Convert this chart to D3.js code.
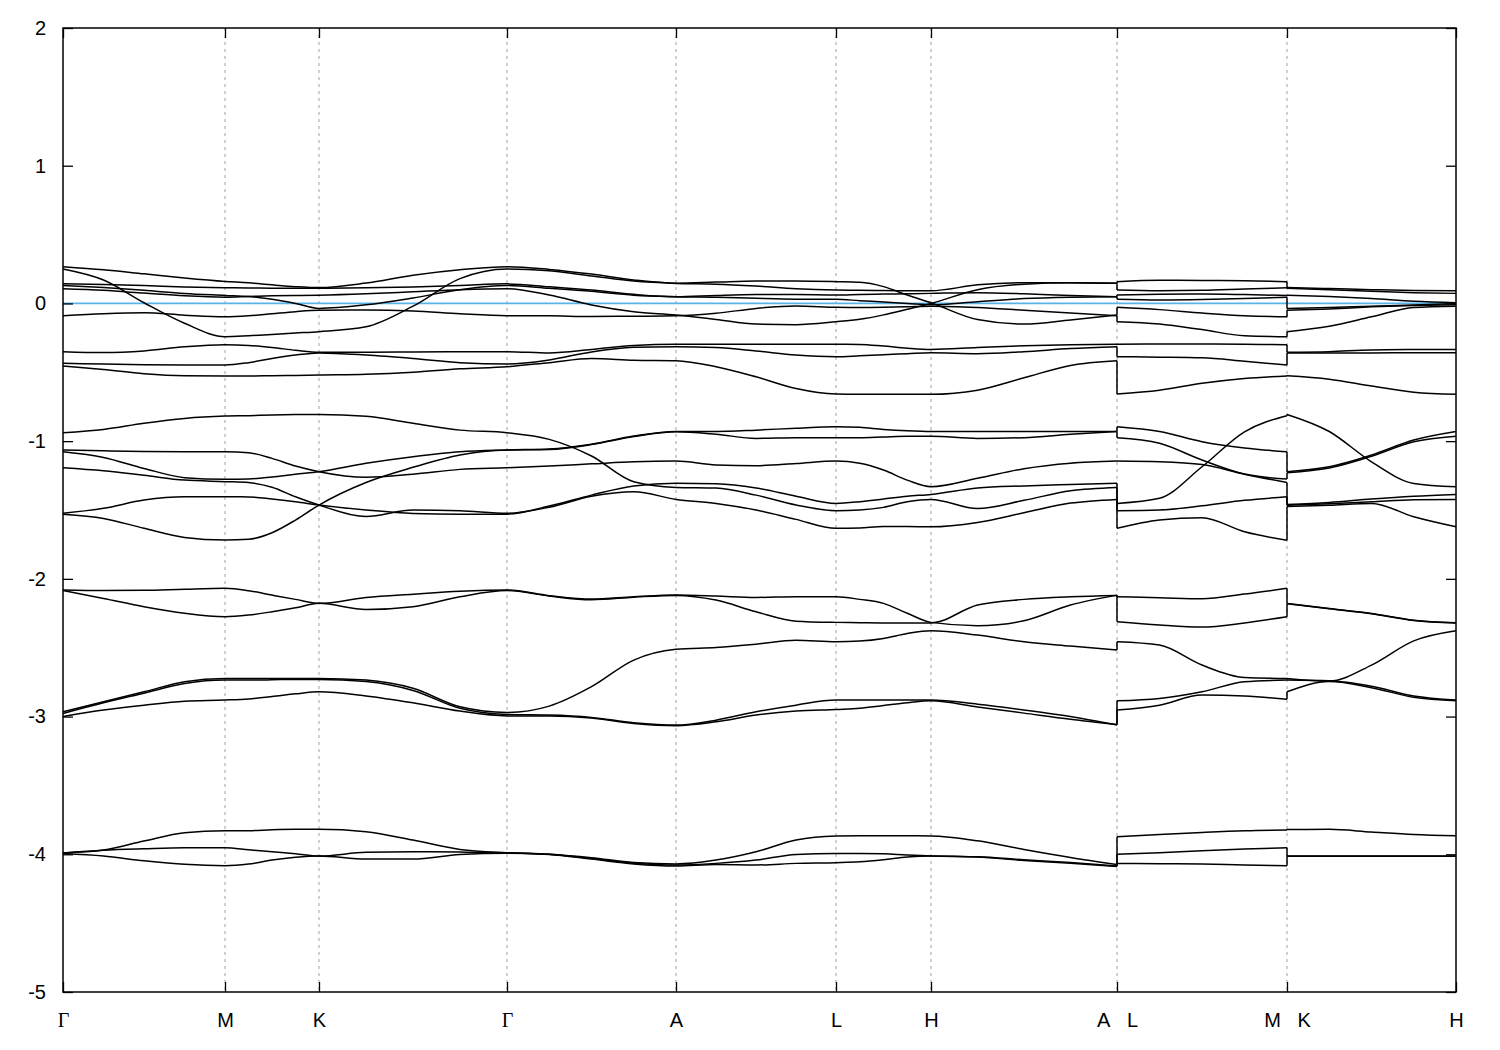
<!DOCTYPE html>
<html><head><meta charset="utf-8">
<script src="https://cdn.jsdelivr.net/npm/d3@7"></script>
<style>body{margin:0;background:#fff;} svg{display:block;}</style>
</head><body>
<svg id="chart" width="1500" height="1050"></svg>
<script>
// ---- k-path ticks ----
const kLabels = ["Γ", "M", "K", "Γ", "A", "L", "H", "A\u00a0\u00a0\u00a0L", "M\u00a0\u00a0\u00a0K", "H"];
const kTickPos = [0, 0.162, 0.256, 0.444, 0.613, 0.773, 0.868, 1.054, 1.224, 1.393];
const yTicks = [2, 1, 0, -1, -2, -3, -4, -5];
const fermiLevel = 0;
const samplesPerSegment = 4;

// ---- bands along Γ-M-K-Γ-A-L-H-A (29 samples: 4 per segment) ----
const bandsPath1 = [
  [0.267,0.245,0.215,0.185,0.16, 0.15,0.135,0.122,0.115, 0.148,0.205,0.245,0.267, 0.247,0.213,0.17,0.147, 0.155,0.163,0.163,0.158, 0.153,0.122,0.061,0.005, -0.117,-0.15,-0.12,-0.084],
  [0.25,0.17,0.005,-0.144,-0.242, -0.235,-0.225,-0.215,-0.205, -0.17,-0.02,0.18,0.25, 0.237,0.2,0.162,0.145, 0.14,0.126,0.107,0.097, 0.095,0.093,0.092,0.092, 0.135,0.15,0.15,0.147],
  [0.142,0.138,0.13,0.12,0.114, 0.112,0.111,0.11,0.11, 0.113,0.12,0.13,0.142, 0.121,0.097,0.066,0.049, 0.058,0.064,0.064,0.061, 0.065,0.068,0.07,0.073, 0.078,0.07,0.058,0.049],
  [0.13,0.115,0.095,0.072,0.058, 0.05,0.03,0.0,-0.036, -0.01,0.04,0.1,0.13, 0.11,0.088,0.06,0.049, 0.045,0.037,0.031,0.03, 0.02,0.01,0.0,-0.01, 0.013,0.035,0.045,0.049],
  [0.107,0.095,0.075,0.055,0.045, 0.05,0.055,0.058,0.06, 0.07,0.085,0.1,0.107, 0.061,-0.011,-0.06,-0.084, -0.116,-0.15,-0.154,-0.133, -0.115,-0.083,-0.042,0.0, 0.1,0.14,0.15,0.146],
  [-0.089,-0.075,-0.068,-0.085,-0.097, -0.09,-0.075,-0.06,-0.05, -0.048,-0.055,-0.075,-0.089, -0.09,-0.095,-0.093,-0.09, -0.072,-0.036,-0.019,-0.028, -0.03,-0.028,-0.024,-0.02, -0.03,-0.05,-0.07,-0.09],
  [-0.35,-0.357,-0.345,-0.315,-0.3, -0.305,-0.32,-0.34,-0.355, -0.355,-0.352,-0.35,-0.35, -0.36,-0.335,-0.305,-0.297, -0.297,-0.297,-0.297,-0.297, -0.298,-0.31,-0.325,-0.334, -0.32,-0.307,-0.3,-0.297],
  [-0.435,-0.44,-0.445,-0.447,-0.447, -0.43,-0.4,-0.375,-0.36, -0.375,-0.4,-0.43,-0.44, -0.41,-0.352,-0.319,-0.314, -0.32,-0.345,-0.375,-0.387, -0.38,-0.372,-0.365,-0.358, -0.365,-0.35,-0.328,-0.314],
  [-0.455,-0.48,-0.51,-0.525,-0.527, -0.527,-0.525,-0.523,-0.52, -0.515,-0.5,-0.475,-0.46, -0.43,-0.4,-0.412,-0.416, -0.46,-0.533,-0.618,-0.658, -0.66,-0.66,-0.66,-0.66, -0.63,-0.54,-0.45,-0.416],
  [-0.939,-0.915,-0.87,-0.835,-0.818, -0.815,-0.81,-0.807,-0.806, -0.82,-0.87,-0.92,-0.939, -0.987,-1.108,-1.295,-1.336, -1.341,-1.392,-1.464,-1.505, -1.5,-1.481,-1.44,-1.423, -1.49,-1.43,-1.36,-1.336],
  [-1.064,-1.07,-1.075,-1.077,-1.077, -1.084,-1.125,-1.181,-1.222, -1.263,-1.24,-1.205,-1.193, -1.18,-1.165,-1.15,-1.145, -1.173,-1.178,-1.163,-1.145, -1.161,-1.21,-1.283,-1.331, -1.27,-1.2,-1.16,-1.145],
  [-1.077,-1.118,-1.198,-1.265,-1.277, -1.275,-1.26,-1.24,-1.222, -1.161,-1.113,-1.077,-1.064, -1.057,-1.022,-0.963,-0.93, -0.93,-0.92,-0.906,-0.895, -0.9,-0.915,-0.925,-0.93, -0.93,-0.93,-0.93,-0.93],
  [-1.193,-1.215,-1.248,-1.283,-1.294, -1.301,-1.335,-1.404,-1.464, -1.548,-1.5,-1.505,-1.524, -1.48,-1.4,-1.367,-1.423, -1.452,-1.5,-1.568,-1.633, -1.63,-1.62,-1.62,-1.622, -1.59,-1.52,-1.45,-1.423],
  [-1.524,-1.488,-1.428,-1.404,-1.404, -1.405,-1.42,-1.44,-1.464, -1.5,-1.525,-1.53,-1.53, -1.471,-1.392,-1.326,-1.306, -1.31,-1.34,-1.4,-1.452, -1.44,-1.42,-1.4,-1.387, -1.34,-1.325,-1.315,-1.306],
  [-1.53,-1.561,-1.633,-1.699,-1.718, -1.713,-1.665,-1.573,-1.464, -1.3,-1.19,-1.1,-1.064, -1.06,-1.025,-0.967,-0.932, -0.95,-0.98,-0.975,-0.975, -0.975,-0.97,-0.965,-0.965, -0.98,-0.975,-0.95,-0.93],
  [-2.081,-2.085,-2.083,-2.075,-2.069, -2.086,-2.118,-2.149,-2.178, -2.135,-2.111,-2.09,-2.081, -2.122,-2.147,-2.13,-2.118, -2.125,-2.135,-2.13,-2.13, -2.149,-2.178,-2.25,-2.316, -2.34,-2.304,-2.19,-2.118],
  [-2.085,-2.142,-2.202,-2.25,-2.275, -2.263,-2.239,-2.21,-2.178, -2.222,-2.202,-2.13,-2.085, -2.125,-2.152,-2.133,-2.12, -2.154,-2.239,-2.307,-2.316, -2.318,-2.32,-2.32,-2.32, -2.19,-2.149,-2.13,-2.12],
  [-2.965,-2.892,-2.82,-2.747,-2.723, -2.723,-2.723,-2.723,-2.723, -2.735,-2.795,-2.929,-2.97, -2.924,-2.783,-2.59,-2.512, -2.498,-2.474,-2.445,-2.457, -2.452,-2.433,-2.397,-2.377, -2.408,-2.457,-2.488,-2.517],
  [-2.977,-2.9,-2.83,-2.76,-2.735, -2.735,-2.733,-2.73,-2.73, -2.745,-2.81,-2.94,-2.985, -2.989,-3.006,-3.045,-3.062, -3.026,-2.965,-2.917,-2.88, -2.88,-2.88,-2.88,-2.88, -2.91,-2.952,-3.0,-3.062],
  [-3.0,-2.953,-2.917,-2.888,-2.88, -2.872,-2.855,-2.835,-2.82, -2.85,-2.9,-2.96,-2.995, -2.995,-3.01,-3.05,-3.066, -3.038,-2.989,-2.96,-2.948, -2.94,-2.92,-2.9,-2.885, -2.93,-2.975,-3.02,-3.058],
  [-3.99,-3.969,-3.904,-3.844,-3.829, -3.829,-3.822,-3.819,-3.819, -3.836,-3.897,-3.965,-3.989, -4.0,-4.025,-4.06,-4.07, -4.042,-3.982,-3.897,-3.868, -3.866,-3.866,-3.866,-3.867, -3.902,-3.965,-4.023,-4.074],
  [-3.99,-3.97,-3.96,-3.953,-3.953, -3.967,-3.982,-3.996,-4.013, -3.986,-3.982,-3.984,-3.989, -4.0,-4.03,-4.065,-4.078, -4.066,-4.042,-4.001,-3.994, -3.994,-3.997,-4.006,-4.013, -4.018,-4.04,-4.06,-4.085],
  [-3.995,-4.013,-4.047,-4.073,-4.083, -4.071,-4.042,-4.022,-4.013, -4.035,-4.035,-4.001,-3.992, -4.002,-4.035,-4.07,-4.085, -4.075,-4.078,-4.066,-4.061, -4.055,-4.04,-4.02,-4.013, -4.02,-4.045,-4.065,-4.088]
];

// ---- bands along L-M (5 samples) ----
const bandsPath2 = [
  [0.158,0.168,0.167,0.165,0.158],
  [0.097,0.092,0.095,0.105,0.114],
  [0.061,0.066,0.068,0.064,0.058],
  [0.03,0.025,0.028,0.035,0.045],
  [-0.028,-0.045,-0.07,-0.09,-0.097],
  [-0.133,-0.15,-0.19,-0.235,-0.242],
  [-0.297,-0.295,-0.295,-0.297,-0.3],
  [-0.387,-0.39,-0.395,-0.42,-0.447],
  [-0.658,-0.63,-0.58,-0.545,-0.527],
  [-0.895,-0.93,-1.004,-1.05,-1.077],
  [-0.975,-1.015,-1.137,-1.239,-1.275],
  [-1.145,-1.15,-1.17,-1.24,-1.3],
  [-1.452,-1.415,-1.186,-0.932,-0.815],
  [-1.505,-1.5,-1.47,-1.43,-1.404],
  [-1.633,-1.573,-1.556,-1.658,-1.72],
  [-2.13,-2.137,-2.145,-2.11,-2.069],
  [-2.311,-2.335,-2.35,-2.32,-2.275],
  [-2.457,-2.481,-2.626,-2.716,-2.723],
  [-2.885,-2.868,-2.82,-2.747,-2.735],
  [-2.953,-2.917,-2.844,-2.851,-2.875],
  [-3.873,-3.856,-3.841,-3.829,-3.824],
  [-3.999,-3.989,-3.975,-3.962,-3.953],
  [-4.066,-4.068,-4.071,-4.078,-4.083]
];

// ---- bands along K-H (5 samples) ----
const bandsPath3 = [
  [0.115,0.108,0.1,0.094,0.092],
  [0.11,0.1,0.088,0.078,0.073],
  [0.06,0.05,0.035,0.015,0.005],
  [-0.036,-0.03,-0.02,-0.012,0.0],
  [-0.05,-0.04,-0.025,-0.015,-0.01],
  [-0.205,-0.165,-0.097,-0.03,-0.02],
  [-0.355,-0.35,-0.338,-0.335,-0.334],
  [-0.36,-0.36,-0.36,-0.358,-0.358],
  [-0.525,-0.55,-0.6,-0.645,-0.66],
  [-0.806,-0.93,-1.15,-1.307,-1.331],
  [-1.222,-1.186,-1.101,-0.992,-0.93],
  [-1.23,-1.195,-1.11,-1.005,-0.965],
  [-1.46,-1.445,-1.42,-1.4,-1.387],
  [-1.465,-1.455,-1.44,-1.425,-1.423],
  [-1.475,-1.465,-1.452,-1.549,-1.622],
  [-2.178,-2.215,-2.251,-2.3,-2.319],
  [-2.18,-2.217,-2.253,-2.302,-2.321],
  [-2.723,-2.742,-2.626,-2.45,-2.377],
  [-2.735,-2.74,-2.78,-2.85,-2.88],
  [-2.82,-2.745,-2.79,-2.86,-2.885],
  [-3.82,-3.819,-3.838,-3.856,-3.866],
  [-4.013,-4.013,-4.013,-4.013,-4.013],
  [-4.015,-4.015,-4.015,-4.015,-4.015]
];

// ---- drawing ----
const plot = {left: 63, right: 1456, top: 28, bottom: 992};
const x = d3.scaleLinear().domain([kTickPos[0], kTickPos[kTickPos.length - 1]]).range([plot.left, plot.right]);
const y = d3.scaleLinear().domain([-5, 2]).range([plot.bottom, plot.top]);
const svg = d3.select("#chart");
const font = "'Liberation Sans', Arial, Helvetica, sans-serif";

function sampleXs(startIdx, endIdx) {
  const xs = [];
  for (let s = startIdx; s < endIdx; s++) {
    const a = kTickPos[s], b = kTickPos[s + 1];
    for (let j = 0; j < samplesPerSegment; j++) xs.push(a + (b - a) * j / samplesPerSegment);
  }
  xs.push(kTickPos[endIdx]);
  return xs;
}
const xs1 = sampleXs(0, 7);
const xs2 = sampleXs(7, 8);
const xs3 = sampleXs(8, 9);

// vertical dashed grid at interior k-points
svg.append("g").selectAll("line").data(kTickPos.slice(1, -1)).join("line")
  .attr("x1", d => x(d)).attr("x2", d => x(d))
  .attr("y1", plot.top).attr("y2", plot.bottom)
  .attr("stroke", "#a0a0a0").attr("stroke-width", 1)
  .attr("stroke-dasharray", "3,4");

// Fermi level
svg.append("line")
  .attr("x1", plot.left).attr("x2", plot.right)
  .attr("y1", y(fermiLevel)).attr("y2", y(fermiLevel))
  .attr("stroke", "#56b4e9").attr("stroke-width", 1.8);

const line = d3.line().x(d => x(d[0])).y(d => y(d[1])).curve(d3.curveMonotoneX);
const bandG = svg.append("g").attr("fill", "none").attr("stroke", "#000").attr("stroke-width", 1.5);

function drawRegion(rows, xs) {
  bandG.append("g").selectAll("path").data(rows).join("path")
    .attr("d", r => line(r.map((v, i) => [xs[i], v])));
}
drawRegion(bandsPath1, xs1);
drawRegion(bandsPath2, xs2);
drawRegion(bandsPath3, xs3);

// jumps at discontinuities (bands joined by index order)
function jumps(endVals, startVals, kx) {
  const a = endVals.slice().sort((p, q) => q - p);
  const b = startVals.slice().sort((p, q) => q - p);
  bandG.append("g").selectAll("line").data(a.map((v, i) => [v, b[i]])).join("line")
    .attr("x1", x(kx)).attr("x2", x(kx))
    .attr("y1", d => y(d[0])).attr("y2", d => y(d[1]));
}
jumps(bandsPath1.map(r => r[r.length - 1]), bandsPath2.map(r => r[0]), kTickPos[7]);
jumps(bandsPath2.map(r => r[r.length - 1]), bandsPath3.map(r => r[0]), kTickPos[8]);

// axes
function styleAxis(g) {
  g.select(".domain").remove();
  g.selectAll(".tick line").attr("stroke", "#000").attr("stroke-width", 1.3);
  g.selectAll("text").attr("fill", "#000");
}
svg.append("g").attr("transform", `translate(${plot.left},0)`)
  .call(d3.axisLeft(y).tickValues(yTicks).tickSize(-10).tickPadding(17).tickFormat(d => String(d)))
  .attr("font-family", font).attr("font-size", 20)
  .call(styleAxis);
svg.append("g").attr("transform", `translate(${plot.right},0)`)
  .call(d3.axisRight(y).tickValues(yTicks).tickSize(-10).tickFormat(""))
  .call(styleAxis);
svg.append("g").attr("transform", `translate(0,${plot.bottom})`)
  .call(d3.axisBottom(x).tickValues(kTickPos).tickSize(-10).tickPadding(21).tickFormat((d, i) => kLabels[i]))
  .attr("font-family", font).attr("font-size", 20)
  .call(styleAxis)
  .call(g => g.selectAll("text").filter(function() { return this.textContent === "Γ"; })
    .attr("font-family", "'Liberation Serif', 'DejaVu Serif', serif"));
svg.append("g").attr("transform", `translate(0,${plot.top})`)
  .call(d3.axisTop(x).tickValues(kTickPos).tickSize(-10).tickFormat(""))
  .call(styleAxis);

// frame
svg.append("rect")
  .attr("x", plot.left).attr("y", plot.top)
  .attr("width", plot.right - plot.left).attr("height", plot.bottom - plot.top)
  .attr("fill", "none").attr("stroke", "#000").attr("stroke-width", 1.5);
</script>
</body></html>
